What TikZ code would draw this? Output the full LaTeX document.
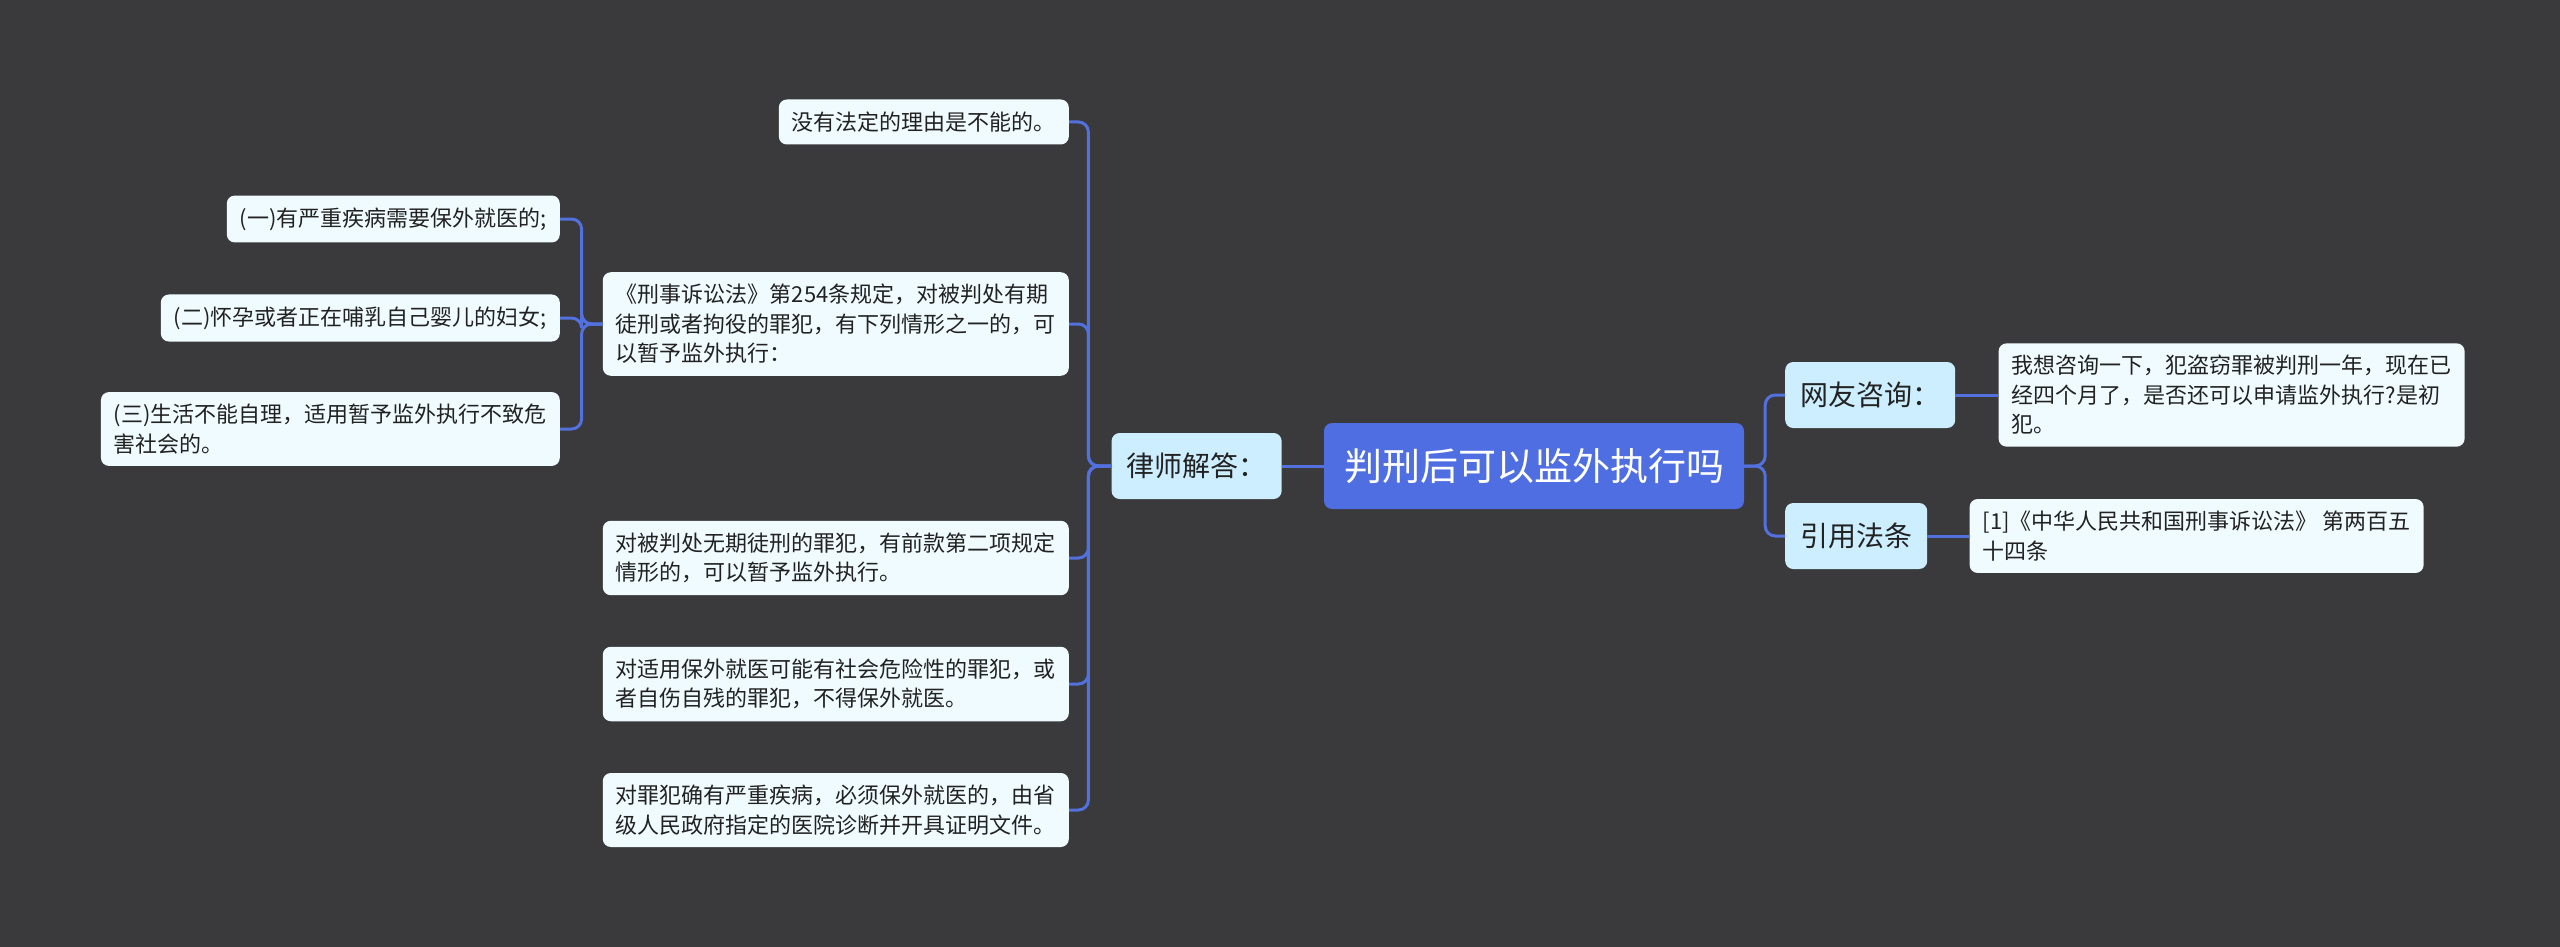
\documentclass[tikz,border=0pt]{standalone}
\usepackage{fontspec}
\newfontfamily\cjk{Noto Sans CJK SC}
\usepackage{tikz}
\usetikzlibrary{positioning,calc}
\definecolor{bgdark}{RGB}{58,57,59}
\definecolor{rootblue}{RGB}{78,110,226}
\definecolor{linkblue}{RGB}{82,112,222}
\definecolor{topiccyan}{RGB}{204,238,255}
\definecolor{leafwhite}{RGB}{240,251,255}
\definecolor{inkdark}{RGB}{34,34,34}
\tikzset{
  basebox/.style={rectangle,rounded corners=8pt,align=left,text=inkdark},
  rootnode/.style={basebox,fill=rootblue,text=white,font=\cjk\fontsize{38}{44}\selectfont,inner xsep=20pt,minimum height=86pt},
  topicnode/.style={basebox,fill=topiccyan,font=\cjk\fontsize{28}{34}\selectfont,inner xsep=15pt,minimum height=66pt},
  leafnode/.style={basebox,fill=leafwhite,font=\cjk\fontsize{22}{29.5}\selectfont,inner xsep=13pt,inner ysep=12pt,minimum height=45pt},
  link/.style={draw=linkblue,line width=3pt,rounded corners=10pt}
}

\begin{document}
\begin{tikzpicture}[x=1pt,y=-1pt,node distance=42pt]
  \useasboundingbox[fill=bgdark] (0,0) rectangle (2560,947);

  \node[rootnode] (root) at (1534,466) {判刑后可以监外执行吗};
  \node[topicnode,left=42pt of root] (lawyer) {律师解答：};
  \node[topicnode,anchor=west] (netq) at (1785,395) {网友咨询：};
  \node[topicnode,anchor=west] (cite) at (1785,536) {引用法条};

  \node[leafnode,right=43pt of netq] (qtext)
    {我想咨询一下，犯盗窃罪被判刑一年，现在已\\经四个月了，是否还可以申请监外执行?是初\\犯。};
  \node[leafnode,right=42pt of cite] (citetext)
    {[1]《中华人民共和国刑事诉讼法》 第两百五\\十四条};

  \node[leafnode,anchor=east] (noreason) at (1069,122) {没有法定的理由是不能的。};
  \node[leafnode,anchor=east] (art254) at (1069,324)
    {《刑事诉讼法》第254条规定，对被判处有期\\徒刑或者拘役的罪犯，有下列情形之一的，可\\以暂予监外执行：};
  \node[leafnode,anchor=east] (lifeterm) at (1069,558)
    {对被判处无期徒刑的罪犯，有前款第二项规定\\情形的，可以暂予监外执行。};
  \node[leafnode,anchor=east] (medrisk) at (1069,684)
    {对适用保外就医可能有社会危险性的罪犯，或\\者自伤自残的罪犯，不得保外就医。};
  \node[leafnode,anchor=east] (hospital) at (1069,810)
    {对罪犯确有严重疾病，必须保外就医的，由省\\级人民政府指定的医院诊断并开具证明文件。};

  \node[leafnode,anchor=east] (item1) at (560,219) {(一)有严重疾病需要保外就医的;};
  \node[leafnode,anchor=east] (item2) at (560,318) {(二)怀孕或者正在哺乳自己婴儿的妇女;};
  \node[leafnode,anchor=east] (item3) at (560,429)
    {(三)生活不能自理，适用暂予监外执行不致危\\害社会的。};

  \coordinate (ltrunk) at ($(lawyer.west)+(-23,0)$);
  \coordinate (atrunk) at ($(art254.west)+(-21,0)$);
  \coordinate (rtrunk) at ($(root.east)+(21,0)$);

  \draw[link] (root.west) -- (lawyer.east);
  \draw[link] (lawyer.west) -- (ltrunk) |- (noreason.east);
  \draw[link] (lawyer.west) -- (ltrunk) |- (art254.east);
  \draw[link] (lawyer.west) -- (ltrunk) |- (lifeterm.east);
  \draw[link] (lawyer.west) -- (ltrunk) |- (medrisk.east);
  \draw[link] (lawyer.west) -- (ltrunk) |- (hospital.east);
  \draw[link] (art254.west) -- (atrunk) |- (item1.east);
  \draw[link] (art254.west) -- (atrunk) |- (item2.east);
  \draw[link] (art254.west) -- (atrunk) |- (item3.east);
  \draw[link] (root.east) -- (rtrunk) |- (netq.west);
  \draw[link] (root.east) -- (rtrunk) |- (cite.west);
  \draw[link] (netq.east) -- (qtext.west); \draw[link] (cite.east) -- (citetext.west);
\end{tikzpicture}
\end{document}
